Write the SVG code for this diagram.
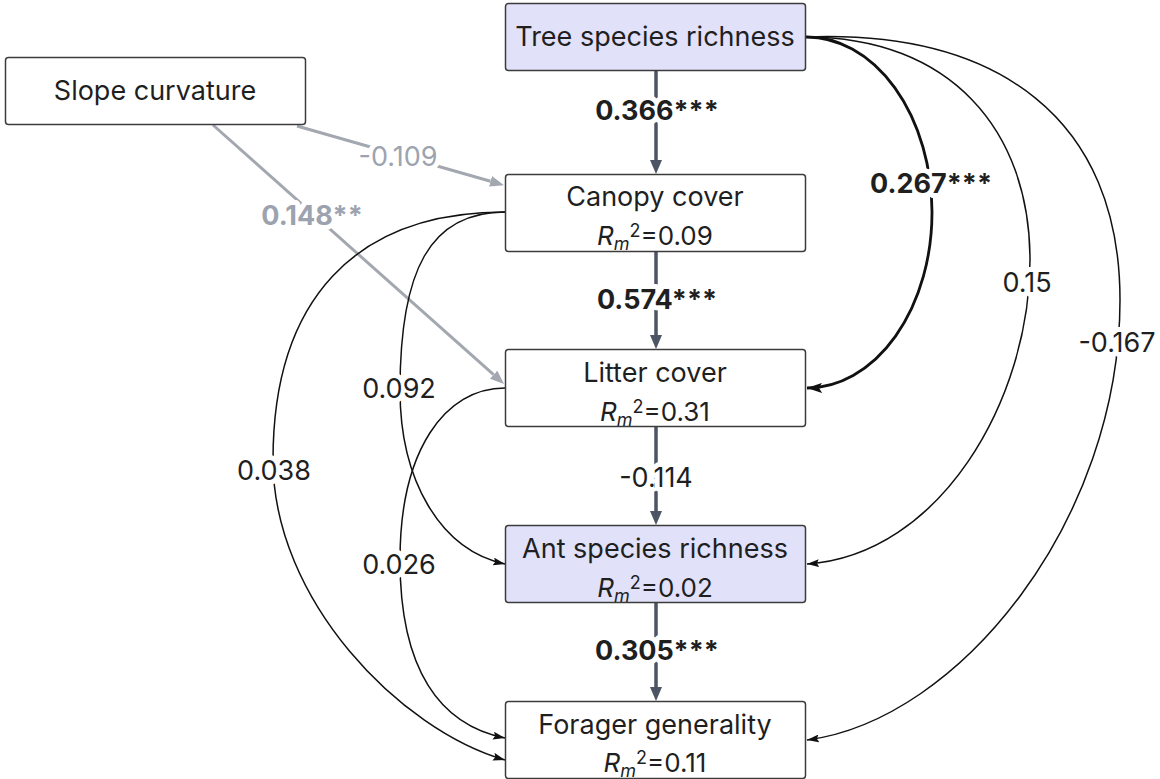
<svg xmlns="http://www.w3.org/2000/svg" width="1160" height="779" viewBox="0 0 1160 779">
<defs>
<style>
.box{fill:#fff;stroke:#3c3c3c;stroke-width:1.5}
.hl{fill:#e1e1fa}
.nt{font-family:Inter,"Noto Sans","Liberation Sans",sans-serif;font-size:27px;fill:#1f1f1f;text-anchor:middle}
.r2{font-size:26px}
.el{font-family:Inter,"Noto Sans","Liberation Sans",sans-serif;font-size:27px;fill:#1f1f1f;text-anchor:middle;paint-order:stroke;stroke:#fff;stroke-width:10px;stroke-linejoin:round}
.b{font-weight:700}
.g{fill:#9ca3af}
.ev{stroke:#4b5563;stroke-width:3.5;fill:none}
.eg{stroke:#a3a8b0;stroke-width:3;fill:none}
.ek{stroke:#111;stroke-width:1.5;fill:none}
.ekb{stroke:#111;stroke-width:2.8;fill:none}
</style>
<marker id="mv" markerUnits="userSpaceOnUse" viewBox="0 0 14 12" markerWidth="14" markerHeight="12" refX="0" refY="6" orient="auto"><path d="M0,0 L14,6 L0,12 z" fill="#4b5563"/></marker>
<marker id="mg" markerUnits="userSpaceOnUse" viewBox="0 0 14 11" markerWidth="14" markerHeight="11" refX="0" refY="5.5" orient="auto"><path d="M0,0 L14,5.5 L0,11 z" fill="#a3a8b0"/></marker>
<marker id="mk" markerUnits="userSpaceOnUse" viewBox="0 0 12 8" markerWidth="12" markerHeight="8" refX="12" refY="4" orient="auto"><path d="M0,0 L12,4 L0,8 L2,4 z" fill="#111"/></marker>
<marker id="mkb" markerUnits="userSpaceOnUse" viewBox="0 0 15 10" markerWidth="15" markerHeight="10" refX="15" refY="5" orient="auto"><path d="M0,0 L15,5 L0,10 L3,5 z" fill="#111"/></marker>
</defs>

<g id="connectors">
<path class="ev" d="M656,71 L656,160" marker-end="url(#mv)"/>
<path class="ev" d="M656,252 L656,335" marker-end="url(#mv)"/>
<path class="ev" d="M656,427 L656,511" marker-end="url(#mv)"/>
<path class="ev" d="M656,603 L656,687" marker-end="url(#mv)"/>
<path class="eg" d="M297,126 L490.5,181.3" marker-end="url(#mg)"/>
<path class="eg" d="M213,125 L493.6,374.7" marker-end="url(#mg)"/>
<path class="ekb" d="M806,37 A125.5,175.5 0 0 1 807,388" marker-end="url(#mkb)"/>
<path class="ek" d="M806,37 C950,37 1030,130 1030,260 C1030,400 940,555 807,564" marker-end="url(#mk)"/>
<path class="ek" d="M806,37 C1000,30 1120,120 1120,300 C1120,520 960,720 807,740" marker-end="url(#mk)"/>
<path class="ek" d="M505,212 C430,212 400,270 400,390 C400,480 440,550 505,564" marker-end="url(#mk)"/>
<path class="ek" d="M505,212 C355,212 273,300 273,460 C273,600 400,730 505,760" marker-end="url(#mk)"/>
<path class="ek" d="M505,388 C445,388 400,450 400,560 C400,670 440,725 505,738" marker-end="url(#mk)"/>
<g id="edge-labels">
<text class="el b" x="657" y="120">0.366***</text>
<text class="el b" x="657" y="309">0.574***</text>
<text class="el" x="656" y="487">-0.114</text>
<text class="el b" x="657" y="660">0.305***</text>
<text class="el b" x="931" y="193">0.267***</text>
<text class="el" x="1027" y="292">0.15</text>
<text class="el" x="1117" y="352">-0.167</text>
<text class="el g" x="398" y="166">-0.109</text>
<text class="el b g" x="312" y="225">0.148**</text>
<text class="el" x="399" y="398">0.092</text>
<text class="el" x="274" y="480">0.038</text>
<text class="el" x="399" y="574">0.026</text>
</g>
</g>

<g id="node-tree">
<rect class="box hl" x="505.5" y="3.5" width="300" height="67" rx="3"/>
<text class="nt" x="655" y="46">Tree species richness</text>
</g>
<g id="node-slope">
<rect class="box" x="5.5" y="57.5" width="300" height="67" rx="3"/>
<text class="nt" x="155" y="100">Slope curvature</text>
</g>
<g id="node-canopy">
<rect class="box" x="505.5" y="174.5" width="300" height="77" rx="3"/>
<text class="nt" x="655" y="206">Canopy cover</text>
<text class="nt r2" x="655" y="245"><tspan font-style="italic">R</tspan><tspan font-style="italic" font-size="18" dy="5">m</tspan><tspan font-size="18" dy="-13">2</tspan><tspan dy="8">=0.09</tspan></text>
</g>
<g id="node-litter">
<rect class="box" x="505.5" y="349.5" width="300" height="77" rx="3"/>
<text class="nt" x="655" y="382">Litter cover</text>
<text class="nt r2" x="655" y="421"><tspan font-style="italic">R</tspan><tspan font-style="italic" font-size="18" dy="5">m</tspan><tspan font-size="18" dy="-13">2</tspan><tspan dy="8">=0.31</tspan></text>
</g>
<g id="node-ant">
<rect class="box hl" x="505.5" y="525.5" width="300" height="77" rx="3"/>
<text class="nt" x="655" y="558">Ant species richness</text>
<text class="nt r2" x="655" y="597"><tspan font-style="italic">R</tspan><tspan font-style="italic" font-size="18" dy="5">m</tspan><tspan font-size="18" dy="-13">2</tspan><tspan dy="8">=0.02</tspan></text>
</g>
<g id="node-forager">
<rect class="box" x="505.5" y="701.5" width="300" height="77" rx="3"/>
<text class="nt" x="655" y="734">Forager generality</text>
<text class="nt r2" x="655" y="772"><tspan font-style="italic">R</tspan><tspan font-style="italic" font-size="18" dy="5">m</tspan><tspan font-size="18" dy="-13">2</tspan><tspan dy="8">=0.11</tspan></text>
</g>
</svg>
